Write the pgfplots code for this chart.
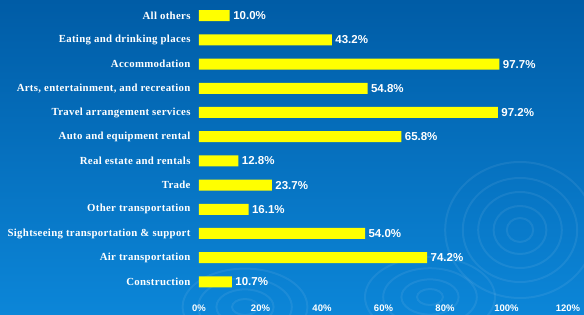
\documentclass[border=0pt]{standalone}
\usepackage{pgfplots}
\pgfplotsset{compat=1.18}
\usepackage{fontspec}
\setmainfont{Liberation Serif}
\newfontfamily\arial{Liberation Sans}
\newfontfamily\catfont[LetterSpace=3]{Liberation Serif}
\definecolor{bgtop}{RGB}{0,92,166}
\definecolor{bgbot}{RGB}{12,134,216}
\definecolor{baryel}{RGB}{255,255,0}
\begin{document}
\begin{tikzpicture}
\useasboundingbox (0pt,0pt) rectangle (584pt,315pt);
\shade[top color=bgtop, bottom color=bgbot] (0pt,0pt) rectangle (584pt,315pt);
\begin{scope}[white, opacity=0.07, line width=2pt]
  \foreach \r in {12,24,38,52,68} {\draw (520pt,85pt) ellipse ({\r*1.1pt} and {\r*1pt});}
  \foreach \r in {10,22,36,50} {\draw (430pt,18pt) ellipse ({\r*1.3pt} and {\r*0.8pt});}
  \foreach \r in {10,22,36,48} {\draw (245pt,8pt) ellipse ({\r*1.3pt} and {\r*0.8pt});}
\end{scope}
\begin{axis}[
  at={(199pt,21pt)}, anchor=south west,
  scale only axis, width=369pt, height=290.4pt,
  xbar, bar width=11pt,
  xmin=0, xmax=120, ymin=-0.5, ymax=11.5,
  axis line style={draw=none},
  xtick={0,20,...,120},
  xticklabel={\pgfmathprintnumber{\tick}\%},
  xticklabel style={font=\arial\bfseries\fontsize{9.5}{10}\selectfont, text=white, yshift=-7pt},
  /pgf/number format/assume math mode=true,
  ytick={0,...,11},
  yticklabels={Construction, Air transportation, Sightseeing transportation \& support, Other transportation, Trade, Real estate and rentals, Auto and equipment rental, Travel arrangement services, {Arts, entertainment, and recreation}, Accommodation, Eating and drinking places, All others},
  yticklabel style={font=\catfont\bfseries\fontsize{10.8}{11}\selectfont, text=white, xshift=-5pt},
  major tick length=0pt,
  nodes near coords={\pgfmathprintnumber[fixed,precision=1,zerofill]{\pgfplotspointmeta}\%},
  nodes near coords style={font=\arial\bfseries\fontsize{11.5}{12}\selectfont, text=white, xshift=0pt},
]
\addplot[fill=baryel, draw=none] coordinates {
(10.7,0) (74.2,1) (54.0,2) (16.1,3) (23.7,4) (12.8,5) (65.8,6) (97.2,7) (54.8,8) (97.7,9) (43.2,10) (10.0,11)
};
\end{axis}
\end{tikzpicture}
\end{document}
